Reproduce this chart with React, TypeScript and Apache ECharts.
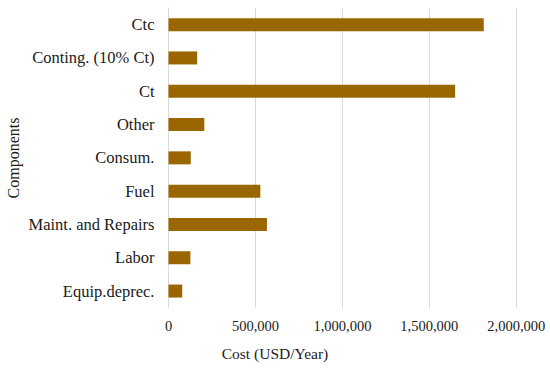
import React, { useEffect, useRef } from "react";
import * as echarts from "echarts";

const categories = [
  "Equip.deprec.",
  "Labor",
  "Maint. and Repairs",
  "Fuel",
  "Consum.",
  "Other",
  "Ct",
  "Conting. (10% Ct)",
  "Ctc",
];
const costs = [79000, 126000, 566000, 528000, 128000, 206000, 1648000, 164800, 1812800];
const xTicks = [0, 500000, 1000000, 1500000, 2000000];
const xAxisTitle = "Cost (USD/Year)";
const yAxisTitle = "Components";

const FONT = "Times New Roman, Liberation Serif, DejaVu Serif, serif";

export default function App() {
  const ref = useRef<HTMLDivElement>(null);
  useEffect(() => {
    if (!ref.current) return;
    const chart = echarts.init(ref.current, null, { renderer: "svg" });
    chart.setOption({
      animation: false,
      backgroundColor: "#ffffff",
      textStyle: { fontFamily: FONT },
      grid: { left: 168.5, right: 550 - 516.3, top: 8, bottom: 368 - 307.7, containLabel: false },
      xAxis: {
        type: "value",
        min: xTicks[0],
        max: xTicks[xTicks.length - 1],
        interval: xTicks[1] - xTicks[0],
        axisLine: { show: false },
        axisTick: { show: false },
        splitLine: { show: true, lineStyle: { color: "#d9d9d9", width: 1 } },
        axisLabel: {
          color: "#1a1a1a",
          fontFamily: FONT,
          fontSize: 14.5,
          margin: 11,
          formatter: (v: number) => v.toLocaleString("en-US"),
        },
      },
      yAxis: {
        type: "category",
        data: categories,
        axisLine: { show: true, lineStyle: { color: "#d9d9d9" } },
        axisTick: { show: false },
        axisLabel: { color: "#1a1a1a", fontFamily: FONT, fontSize: 16.5, margin: 14 },
      },
      graphic: [
        {
          type: "text",
          x: 275,
          y: 353,
          style: {
            text: xAxisTitle,
            fill: "#1a1a1a",
            fontFamily: FONT,
            fontSize: 15.5,
            align: "center",
            verticalAlign: "middle",
          },
        },
        {
          type: "text",
          x: 13,
          y: 158,
          rotation: Math.PI / 2,
          style: {
            text: yAxisTitle,
            fill: "#1a1a1a",
            fontFamily: FONT,
            fontSize: 16,
            align: "center",
            verticalAlign: "middle",
          },
        },
      ],
      series: [
        {
          type: "bar",
          data: costs,
          barWidth: 13,
          itemStyle: { color: "#996600" },
        },
      ],
    });
    return () => chart.dispose();
  }, []);
  return <div ref={ref} style={{ width: 550, height: 368, position: "absolute", left: 0, top: 0 }} />;
}
